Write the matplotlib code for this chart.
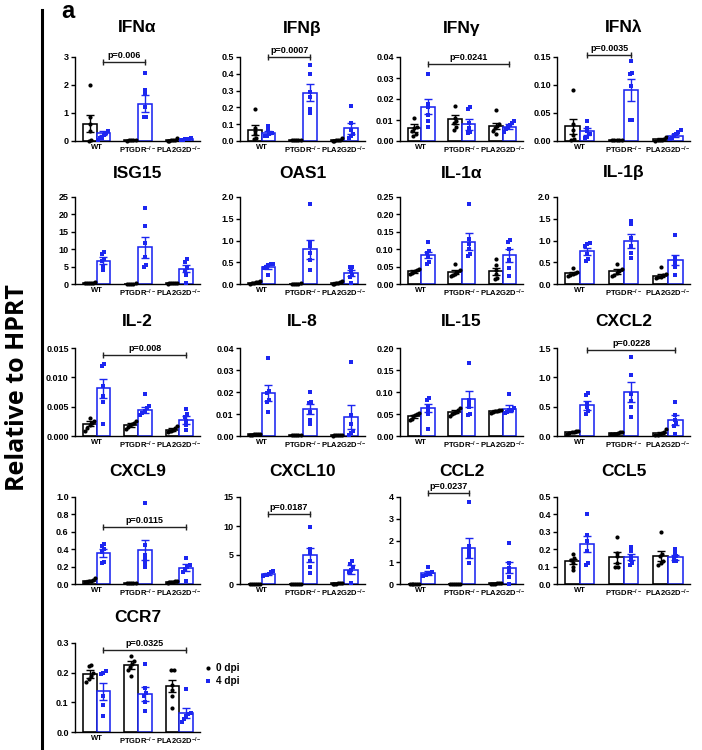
import numpy as np
import matplotlib
matplotlib.use('Agg')
import matplotlib.pyplot as plt
from matplotlib.lines import Line2D

plt.rcParams['font.family'] = ['Liberation Sans', 'DejaVu Sans']
plt.rcParams['font.weight'] = 'bold'
plt.rcParams['mathtext.default'] = 'regular'

BLUE = '#1c26f0'
GROUPS = ['WT', r'PTGDR$^{-/-}$', r'PLA2G2D$^{-/-}$']

# ---------------- data (means, SEM, individual points; rows = WT, PTGDR-/-, PLA2G2D-/-) -------------
IFNa_m0 = [0.62, 0.02, 0.04]; IFNa_s0 = [0.30, 0.005, 0.012]
IFNa_m4 = [0.27, 1.33, 0.07]; IFNa_s4 = [0.07, 0.31, 0.012]
IFNa_p0 = [[2.0, 0.85, 0.6, 0.35, 0.05, 0.0], [0.03, 0.02, 0.02, 0.02, 0.01], [0.12, 0.05, 0.03, 0.02, 0.01, 0.0]]
IFNa_p4 = [[0.35, 0.28, 0.2, 0.12, 0.05, 0.1], [2.42, 1.82, 1.68, 1.2, 0.85, 0.84], [0.1, 0.08, 0.07, 0.06, 0.05, 0.04]]
IFNa_ticks = [0, 1, 2, 3]; IFNa_br = (0, 1, 2.82, 'p=0.006')

IFNb_m0 = [0.066, 0.003, 0.005]; IFNb_s0 = [0.028, 0.001, 0.002]
IFNb_m4 = [0.05, 0.287, 0.075]; IFNb_s4 = [0.01, 0.05, 0.035]
IFNb_p0 = [[0.19, 0.08, 0.06, 0.04, 0.02, 0.01], [0.004, 0.004, 0.003, 0.003, 0.003], [0.015, 0.008, 0.005, 0.003, 0.002, 0.001]]
IFNb_p4 = [[0.09, 0.07, 0.05, 0.04, 0.03, 0.03], [0.45, 0.40, 0.29, 0.26, 0.19, 0.165], [0.21, 0.105, 0.065, 0.04, 0.03, 0.015]]
IFNb_ticks = [0.0, 0.1, 0.2, 0.3, 0.4, 0.5]; IFNb_br = (0, 1, 0.5, 'p=0.0007')

IFNg_m0 = [0.0061, 0.0103, 0.0073]; IFNg_s0 = [0.0018, 0.002, 0.0015]
IFNg_m4 = [0.0163, 0.008, 0.0068]; IFNg_s4 = [0.0035, 0.0026, 0.0012]
IFNg_p0 = [[0.011, 0.0065, 0.006, 0.005, 0.0035, 0.0023], [0.0165, 0.011, 0.0095, 0.0085, 0.0065, 0.0053], [0.015, 0.008, 0.007, 0.006, 0.005, 0.0035]]
IFNg_p4 = [[0.0317, 0.0175, 0.016, 0.0125, 0.0095, 0.0068], [0.016, 0.0153, 0.0085, 0.006, 0.0045, 0.0038], [0.0095, 0.0085, 0.0075, 0.0065, 0.0055, 0.0045]]
IFNg_ticks = [0.0, 0.01, 0.02, 0.03, 0.04]; IFNg_br = (0, 2, 0.0365, 'p=0.0241')

IFNl_m0 = [0.026, 0.001, 0.003]; IFNl_s0 = [0.014, 0.0005, 0.0015]
IFNl_m4 = [0.017, 0.0905, 0.0097]; IFNl_s4 = [0.006, 0.0195, 0.003]
IFNl_p0 = [[0.091, 0.03, 0.02, 0.01, 0.003, 0.001], [0.001, 0.001, 0.001, 0.001, 0.001], [0.008, 0.004, 0.002, 0.001, 0.001, 0.0]]
IFNl_p4 = [[0.036, 0.024, 0.018, 0.012, 0.008, 0.005], [0.143, 0.122, 0.12, 0.099, 0.038, 0.037], [0.019, 0.016, 0.012, 0.01, 0.006, 0.004]]
IFNl_ticks = [0.0, 0.05, 0.10, 0.15]; IFNl_br = (0, 1, 0.153, 'p=0.0035')

ISG_m0 = [0.3, 0.1, 0.25]; ISG_s0 = [0.05, 0.01, 0.05]
ISG_m4 = [6.75, 10.55, 4.37]; ISG_s4 = [0.9, 2.95, 1.0]
ISG_p0 = [[0.5, 0.4, 0.3, 0.3, 0.2, 0.2], [0.15, 0.1, 0.1, 0.1, 0.1], [0.4, 0.3, 0.25, 0.2, 0.15, 0.1]]
ISG_p4 = [[9.3, 8.7, 7.3, 6.5, 5.0, 3.9], [21.7, 16.6, 11.7, 7.9, 5.5, 5.0], [7.1, 6.4, 4.6, 3.8, 2.6, 0.3]]
ISG_ticks = [0, 5, 10, 15, 20, 25]

OAS_m0 = [0.03, 0.01, 0.03]; OAS_s0 = [0.005, 0.002, 0.008]
OAS_m4 = [0.39, 0.80, 0.25]; OAS_s4 = [0.05, 0.22, 0.07]
OAS_p0 = [[0.06, 0.05, 0.04, 0.03, 0.02, 0.01], [0.02, 0.01, 0.01, 0.01, 0.01], [0.06, 0.04, 0.03, 0.02, 0.01, 0.0]]
OAS_p4 = [[0.47, 0.46, 0.43, 0.40, 0.37, 0.21], [1.83, 0.97, 0.88, 0.72, 0.55, 0.33], [0.40, 0.38, 0.3, 0.2, 0.15, 0.03]]
OAS_ticks = [0.0, 0.5, 1.0, 1.5, 2.0]

IL1a_m0 = [0.036, 0.035, 0.037]; IL1a_s0 = [0.003, 0.005, 0.01]
IL1a_m4 = [0.083, 0.122, 0.082]; IL1a_s4 = [0.009, 0.024, 0.02]
IL1a_p0 = [[0.043, 0.04, 0.037, 0.035, 0.032, 0.03], [0.057, 0.04, 0.035, 0.03, 0.025, 0.023], [0.072, 0.055, 0.04, 0.028, 0.018, 0.015]]
IL1a_p4 = [[0.121, 0.094, 0.088, 0.078, 0.063, 0.058], [0.231, 0.13, 0.115, 0.10, 0.085, 0.08], [0.126, 0.12, 0.10, 0.07, 0.045, 0.023]]
IL1a_ticks = [0.0, 0.05, 0.10, 0.15, 0.20, 0.25]

IL1b_m0 = [0.245, 0.29, 0.19]; IL1b_s0 = [0.02, 0.05, 0.03]
IL1b_m4 = [0.75, 0.985, 0.55]; IL1b_s4 = [0.08, 0.16, 0.11]
IL1b_p0 = [[0.37, 0.27, 0.25, 0.22, 0.2, 0.18], [0.47, 0.35, 0.3, 0.25, 0.2, 0.18], [0.38, 0.22, 0.2, 0.17, 0.15, 0.13]]
IL1b_p4 = [[0.95, 0.93, 0.88, 0.70, 0.58, 0.52], [1.45, 1.38, 1.05, 0.88, 0.72, 0.6], [1.12, 0.62, 0.53, 0.46, 0.38, 0.2]]
IL1b_ticks = [0.0, 0.5, 1.0, 1.5, 2.0]

IL2_m0 = [0.0021, 0.0019, 0.0011]; IL2_s0 = [0.0004, 0.0003, 0.0002]
IL2_m4 = [0.0081, 0.0045, 0.0027]; IL2_s4 = [0.0016, 0.0005, 0.0007]
IL2_p0 = [[0.0031, 0.0025, 0.0022, 0.0018, 0.0013, 0.0008], [0.0026, 0.0023, 0.002, 0.0018, 0.0015, 0.0012], [0.0017, 0.0013, 0.0011, 0.0009, 0.0008, 0.0007]]
IL2_p4 = [[0.0122, 0.0119, 0.0086, 0.0068, 0.0058, 0.0021], [0.0071, 0.0051, 0.0047, 0.0043, 0.0039, 0.0036], [0.0046, 0.0037, 0.0032, 0.0025, 0.0018, 0.0011]]
IL2_ticks = [0.0, 0.005, 0.010, 0.015]; IL2_br = (0, 2, 0.01375, 'p=0.008')

IL8_m0 = [0.0007, 0.0004, 0.0004]; IL8_s0 = [0.0001, 0.0001, 0.0001]
IL8_m4 = [0.0197, 0.0121, 0.0086]; IL8_s4 = [0.0036, 0.0023, 0.0053]
IL8_p0 = [[0.001, 0.0009, 0.0008, 0.0007, 0.0006, 0.0005], [0.0005, 0.0005, 0.0005, 0.0005, 0.0005], [0.0006, 0.0005, 0.0004, 0.0003, 0.0003, 0.0002]]
IL8_p4 = [[0.0355, 0.0205, 0.0195, 0.0165, 0.0155, 0.011], [0.0201, 0.0155, 0.0148, 0.011, 0.0075, 0.0055], [0.0335, 0.0095, 0.0055, 0.0025, 0.0012, 0.0005]]
IL8_ticks = [0.0, 0.01, 0.02, 0.03, 0.04]

IL15_m0 = [0.045, 0.055, 0.0565]; IL15_s0 = [0.003, 0.003, 0.002]
IL15_m4 = [0.064, 0.084, 0.0625]; IL15_s4 = [0.0085, 0.019, 0.008]
IL15_p0 = [[0.052, 0.05, 0.047, 0.045, 0.038, 0.037], [0.064, 0.058, 0.055, 0.053, 0.05, 0.045], [0.06, 0.058, 0.057, 0.056, 0.055, 0.053]]
IL15_p4 = [[0.086, 0.082, 0.068, 0.058, 0.05, 0.015], [0.167, 0.082, 0.075, 0.065, 0.05, 0.047], [0.095, 0.063, 0.06, 0.058, 0.055, 0.052]]
IL15_ticks = [0.0, 0.05, 0.10, 0.15, 0.20]

CXCL2_m0 = [0.06, 0.05, 0.05]; CXCL2_s0 = [0.01, 0.006, 0.02]
CXCL2_m4 = [0.52, 0.75, 0.27]; CXCL2_s4 = [0.07, 0.17, 0.08]
CXCL2_p0 = [[0.09, 0.08, 0.07, 0.06, 0.05, 0.04], [0.07, 0.06, 0.05, 0.04, 0.04, 0.03], [0.12, 0.07, 0.05, 0.03, 0.02, 0.01]]
CXCL2_p4 = [[0.73, 0.7, 0.55, 0.49, 0.43, 0.38], [1.34, 1.04, 0.72, 0.6, 0.5, 0.33], [0.58, 0.35, 0.28, 0.22, 0.17, 0.03]]
CXCL2_ticks = [0.0, 0.5, 1.0, 1.5]; CXCL2_br = (0, 2, 1.47, 'p=0.0228')

CXCL9_m0 = [0.04, 0.01, 0.025]; CXCL9_s0 = [0.01, 0.002, 0.005]
CXCL9_m4 = [0.357, 0.395, 0.185]; CXCL9_s4 = [0.05, 0.115, 0.04]
CXCL9_p0 = [[0.07, 0.05, 0.04, 0.03, 0.02, 0.02], [0.015, 0.01, 0.01, 0.01, 0.01], [0.04, 0.03, 0.025, 0.02, 0.02, 0.015]]
CXCL9_p4 = [[0.46, 0.44, 0.4, 0.37, 0.25, 0.24], [0.93, 0.45, 0.33, 0.29, 0.24, 0.2], [0.3, 0.22, 0.2, 0.17, 0.14, 0.03]]
CXCL9_ticks = [0.0, 0.2, 0.4, 0.6, 0.8, 1.0]; CXCL9_br = (0, 2, 0.655, 'p=0.0115')

CXCL10_m0 = [0.05, 0.03, 0.1]; CXCL10_s0 = [0.01, 0.005, 0.03]
CXCL10_m4 = [1.72, 4.94, 2.47]; CXCL10_s4 = [0.2, 1.2, 0.8]
CXCL10_p0 = [[0.05, 0.05, 0.05, 0.05, 0.05, 0.05], [0.03, 0.03, 0.03, 0.03, 0.03, 0.03], [0.2, 0.15, 0.1, 0.08, 0.05, 0.03]]
CXCL10_p4 = [[2.2, 2.0, 1.8, 1.6, 1.5, 1.4], [9.8, 6.1, 5.4, 4.0, 2.9, 1.9], [3.9, 3.5, 2.9, 2.5, 2.1, 0.1]]
CXCL10_ticks = [0, 5, 10, 15]; CXCL10_br = (0, 1, 12.1, 'p=0.0187')

CCL2_m0 = [0.01, 0.01, 0.03]; CCL2_s0 = [0.002, 0.002, 0.008]
CCL2_m4 = [0.5, 1.66, 0.75]; CCL2_s4 = [0.1, 0.45, 0.26]
CCL2_p0 = [[0.01, 0.01, 0.01, 0.01, 0.01, 0.01], [0.01, 0.01, 0.01, 0.01, 0.01, 0.01], [0.06, 0.04, 0.03, 0.02, 0.02, 0.01]]
CCL2_p4 = [[0.78, 0.55, 0.5, 0.45, 0.4, 0.35], [3.78, 1.75, 1.55, 1.4, 1.25, 0.95], [1.9, 0.95, 0.75, 0.6, 0.3, 0.0]]
CCL2_ticks = [0, 1, 2, 3, 4]; CCL2_br = (0, 1, 4.18, 'p=0.0237')

CCL5_m0 = [0.13, 0.153, 0.16]; CCL5_s0 = [0.015, 0.033, 0.028]
CCL5_m4 = [0.23, 0.155, 0.153]; CCL5_s4 = [0.045, 0.017, 0.014]
CCL5_p0 = [[0.17, 0.15, 0.14, 0.12, 0.1, 0.08], [0.27, 0.18, 0.16, 0.12, 0.1, 0.1], [0.3, 0.17, 0.16, 0.13, 0.12, 0.11]]
CCL5_p4 = [[0.4, 0.28, 0.25, 0.19, 0.12, 0.11], [0.21, 0.19, 0.16, 0.14, 0.12, 0.11], [0.2, 0.18, 0.16, 0.15, 0.13, 0.13]]
CCL5_ticks = [0.0, 0.1, 0.2, 0.3, 0.4, 0.5]

CCR7_m0 = [0.195, 0.225, 0.155]; CCR7_s0 = [0.013, 0.013, 0.021]
CCR7_m4 = [0.137, 0.129, 0.064]; CCR7_s4 = [0.028, 0.023, 0.018]
CCR7_p0 = [[0.225, 0.223, 0.2, 0.19, 0.18, 0.17], [0.255, 0.24, 0.23, 0.22, 0.21, 0.19], [0.21, 0.21, 0.16, 0.14, 0.12, 0.08]]
CCR7_p4 = [[0.205, 0.2, 0.195, 0.12, 0.09, 0.055], [0.23, 0.15, 0.13, 0.12, 0.1, 0.07], [0.145, 0.065, 0.06, 0.055, 0.045, 0.035]]
CCR7_ticks = [0.0, 0.1, 0.2, 0.3]; CCR7_br = (0, 2, 0.275, 'p=0.0325')

LEGEND = ['0 dpi', '4 dpi']

# (title, m0, s0, m4, s4, p0, p4, ticks, decimals, bracket)
PANELS = [
    ('IFNα', IFNa_m0, IFNa_s0, IFNa_m4, IFNa_s4, IFNa_p0, IFNa_p4, IFNa_ticks, 0, IFNa_br),
    ('IFNβ', IFNb_m0, IFNb_s0, IFNb_m4, IFNb_s4, IFNb_p0, IFNb_p4, IFNb_ticks, 1, IFNb_br),
    ('IFNγ', IFNg_m0, IFNg_s0, IFNg_m4, IFNg_s4, IFNg_p0, IFNg_p4, IFNg_ticks, 2, IFNg_br),
    ('IFNλ', IFNl_m0, IFNl_s0, IFNl_m4, IFNl_s4, IFNl_p0, IFNl_p4, IFNl_ticks, 2, IFNl_br),
    ('ISG15', ISG_m0, ISG_s0, ISG_m4, ISG_s4, ISG_p0, ISG_p4, ISG_ticks, 0, None),
    ('OAS1', OAS_m0, OAS_s0, OAS_m4, OAS_s4, OAS_p0, OAS_p4, OAS_ticks, 1, None),
    ('IL-1α', IL1a_m0, IL1a_s0, IL1a_m4, IL1a_s4, IL1a_p0, IL1a_p4, IL1a_ticks, 2, None),
    ('IL-1β', IL1b_m0, IL1b_s0, IL1b_m4, IL1b_s4, IL1b_p0, IL1b_p4, IL1b_ticks, 1, None),
    ('IL-2', IL2_m0, IL2_s0, IL2_m4, IL2_s4, IL2_p0, IL2_p4, IL2_ticks, 3, IL2_br),
    ('IL-8', IL8_m0, IL8_s0, IL8_m4, IL8_s4, IL8_p0, IL8_p4, IL8_ticks, 2, None),
    ('IL-15', IL15_m0, IL15_s0, IL15_m4, IL15_s4, IL15_p0, IL15_p4, IL15_ticks, 2, None),
    ('CXCL2', CXCL2_m0, CXCL2_s0, CXCL2_m4, CXCL2_s4, CXCL2_p0, CXCL2_p4, CXCL2_ticks, 1, CXCL2_br),
    ('CXCL9', CXCL9_m0, CXCL9_s0, CXCL9_m4, CXCL9_s4, CXCL9_p0, CXCL9_p4, CXCL9_ticks, 1, CXCL9_br),
    ('CXCL10', CXCL10_m0, CXCL10_s0, CXCL10_m4, CXCL10_s4, CXCL10_p0, CXCL10_p4, CXCL10_ticks, 0, CXCL10_br),
    ('CCL2', CCL2_m0, CCL2_s0, CCL2_m4, CCL2_s4, CCL2_p0, CCL2_p4, CCL2_ticks, 0, CCL2_br),
    ('CCL5', CCL5_m0, CCL5_s0, CCL5_m4, CCL5_s4, CCL5_p0, CCL5_p4, CCL5_ticks, 1, None),
    ('CCR7', CCR7_m0, CCR7_s0, CCR7_m4, CCR7_s4, CCR7_p0, CCR7_p4, CCR7_ticks, 1, CCR7_br),
]

# ---------------- layout (pixels) ----------------
W, H = 702, 750
COL_LEFT = [75, 240, 400, 557]
COL_W = [125, 125, 123, 133]
ROW_TOP = [57, 197, 348, 497, 643]
ROW_BOT = [141, 284, 436, 584, 732]
TITLE_Y = [28, 173, 322, 472, 618]

BW = 0.33
fig = plt.figure(figsize=(W / 100, H / 100), dpi=100)


def swarm(vals, ymax):
    vals = np.asarray(vals, dtype=float)
    order = np.argsort(vals)
    offs = np.zeros(len(vals))
    clusters = []
    cur = [order[0]]
    for k in order[1:]:
        if vals[k] - vals[cur[-1]] < 0.035 * ymax:
            cur.append(k)
        else:
            clusters.append(cur)
            cur = [k]
    clusters.append(cur)
    for c in clusters:
        n = len(c)
        sp = min(0.055, 0.24 / max(n - 1, 1))
        o = (np.arange(n) - (n - 1) / 2) * sp
        for kk, oo in zip(c, o):
            offs[kk] = oo
    return offs


for i, (title, m0, s0, m4, s4, p0, p4, ticks, dec, br) in enumerate(PANELS):
    r, c = divmod(i, 4)
    left, top, bot = COL_LEFT[c], ROW_TOP[r], ROW_BOT[r]
    ax = fig.add_axes([left / W, 1 - bot / H, COL_W[c] / W, (bot - top) / H])
    x = np.arange(3)
    ymax = ticks[-1]
    for xs, m, s, pts, col, mk in [(x - BW / 2, m0, s0, p0, 'black', 'o'),
                                  (x + BW / 2, m4, s4, p4, BLUE, 's')]:
        ax.bar(xs, m, width=BW, facecolor='white', edgecolor=col, linewidth=1.15, zorder=2)
        for xi, pv in zip(xs, pts):
            ax.plot(xi + swarm(pv, ymax), pv, linestyle='none', marker=mk, color=col,
                    ms=3.0 if mk == 'o' else 2.9, mew=0, zorder=4, clip_on=False)
        ax.errorbar(xs, m, yerr=s, fmt='none', ecolor=col, elinewidth=1.0, capsize=3,
                    capthick=1.0, zorder=5)
    ax.set_xlim(-0.52, 2.5)
    ax.set_ylim(0, ymax)
    ax.set_yticks(ticks)
    ax.set_yticklabels([f'{t:.{dec}f}' for t in ticks], fontsize=6.5, fontweight='bold')
    ax.set_xticks(x)
    ax.set_xticklabels(GROUPS, fontsize=5.5, fontweight='bold')
    ax.tick_params(axis='x', length=0, pad=2.5)
    ax.tick_params(axis='y', length=3, width=1.0, pad=1.5)
    for sp in ['top', 'right']:
        ax.spines[sp].set_visible(False)
    for sp in ['left', 'bottom']:
        ax.spines[sp].set_linewidth(1.0)
    fig.text((left + COL_W[c] / 2) / W, 1 - TITLE_Y[r] / H, title, ha='center', va='center',
             fontsize=12.5, fontweight='bold')
    if br is not None:
        g1, g2, yb, txt = br
        xa, xb = g1 + BW / 2, g2 + BW / 2
        ax.plot([xa, xb], [yb, yb], color='#222222', lw=1.0, marker='|', ms=4, mew=1.0,
                clip_on=False, zorder=6)
        ax.annotate(txt, xy=((xa + xb) / 2, yb), xytext=(0, 1.5), textcoords='offset points',
                    ha='center', va='bottom', fontsize=6.5, fontweight='bold', annotation_clip=False)
    if title == 'CCR7':
        for j, (lab, col, mk) in enumerate(zip(LEGEND, ['black', BLUE], ['o', 's'])):
            yy = 0.72 - j * 0.145
            ax.plot([1.06], [yy], marker=mk, color=col, ms=3.0, mew=0, transform=ax.transAxes,
                    clip_on=False, linestyle='none')
            ax.text(1.13, yy, lab, transform=ax.transAxes, fontsize=7.2, fontweight='bold',
                    va='center', ha='left')

# left label and bar
fig.add_artist(Line2D([42 / W, 42 / W], [1 - 10 / H, 1 - 748 / H], color='black', lw=2.2))
fig.text(18 / W, 1 - 388 / H, 'Relative to HPRT', rotation=90, ha='center', va='center',
         fontsize=18, fontweight='bold', family=['Open Sans', 'DejaVu Sans'])
fig.text(68 / W, 1 - 11 / H, 'a', ha='center', va='center', fontsize=17, fontweight='bold')

fig.savefig('out.png', dpi=100)
